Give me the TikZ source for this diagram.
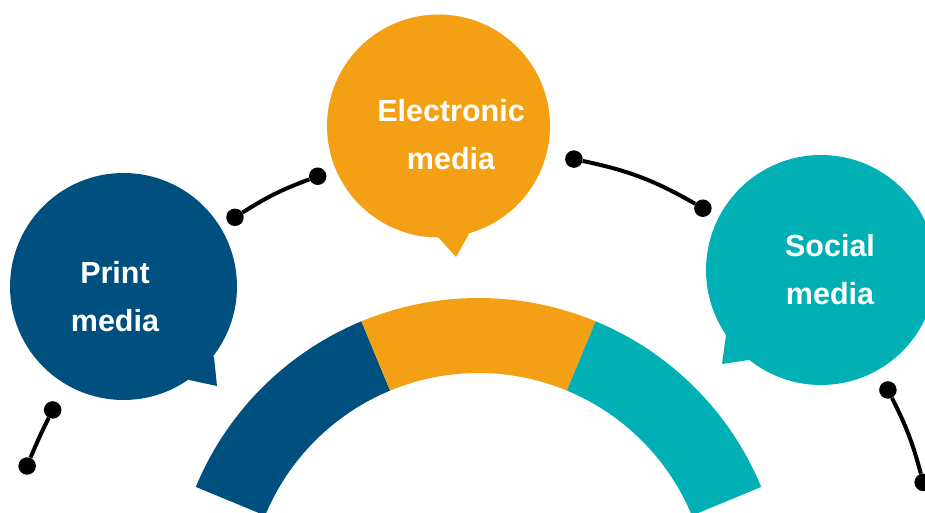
\documentclass[tikz,border=0pt]{standalone}
\usepackage{fontspec}
\setmainfont{Liberation Sans}
\usetikzlibrary{calc}
\definecolor{printblue}{HTML}{00507F}
\definecolor{elecorange}{HTML}{F4A015}
\definecolor{socialteal}{HTML}{00B0B4}
\begin{document}
\begin{tikzpicture}[x=1pt,y=1pt,
  bubble/.style={circle, inner sep=0pt, minimum size=#1},
  caption/.style={text=white, font=\fontsize{30.5}{48}\selectfont\bfseries, align=center, inner sep=0pt},
  dot/.style={circle, fill=black, inner sep=0pt, minimum size=17.5pt},
  link/.style={line width=4pt, black}]
\useasboundingbox (0,0) rectangle (925,513);
\clip (0,0) rectangle (925,513);
\coordinate (C) at (478.5,-91);

% three-part ring
\fill[printblue] ($(C)+(112.5:306)$) arc[start angle=112.5,end angle=157.5,radius=306]
  -- ($(C)+(157.5:231)$) arc[start angle=157.5,end angle=112.5,radius=231] -- cycle;
\fill[elecorange] ($(C)+(67.5:306)$) arc[start angle=67.5,end angle=112.5,radius=306]
  -- ($(C)+(112.5:231)$) arc[start angle=112.5,end angle=67.5,radius=231] -- cycle;
\fill[socialteal] ($(C)+(22.5:306)$) arc[start angle=22.5,end angle=67.5,radius=306]
  -- ($(C)+(67.5:231)$) arc[start angle=67.5,end angle=22.5,radius=231] -- cycle;

% speech bubbles
\node[bubble=227, fill=printblue] (pb) at (123.5,226.5) {};
\fill[printblue] ($(pb)+(90.5,-70.5)$) -- ($(pb)+(93.5,-99.5)$) -- ($(pb)+(65.5,-93.5)$) -- (pb.center) -- cycle;
\node[bubble=223, fill=elecorange] (eb) at (438.5,387) {};
\fill[elecorange] ($(eb)+(-0.5,-111)$) -- ($(eb)+(17.5,-131)$) -- ($(eb)+(31.5,-106)$) -- (eb.center) -- cycle;
\node[bubble=230, fill=socialteal] (sb) at (821,243) {};
\fill[socialteal] ($(sb)+(-95,-65)$) -- ($(sb)+(-99,-94)$) -- ($(sb)+(-72,-90)$) -- (sb.center) -- cycle;

% captions
\node[caption] (pt) at (115,216.5) {Print\\media};
\node[caption] (et) at (451,378) {Electronic\\media};
\node[caption] (st) at (830,243) {Social\\media};

% dotted connectors around the ring
\node[dot] (d1) at ($(C)+(122.2:457)$) {};
\node[dot] (d2) at ($(C)+(110.6:457)$) {};
\node[dot] (d3) at ($(C)+(77.9:455)$) {};
\node[dot] (d4) at ($(C)+(60.45:455)$) {};
\node[dot] (d5) at ($(C)+(155.5:468)$) {};
\node[dot] (d6) at ($(C)+(163:472)$) {};
\node[dot] (d7) at ($(C)+(27.6:462)$) {};
\node[dot] (d8) at ($(C)+(15.3:461)$) {};
\draw[link] (d1) to[bend left=6] (d2);
\draw[link] (d3) to[bend left=9] (d4);
\draw[link] (d5) to[bend right=2] (d6);
\draw[link] (d7) to[bend left=6] (d8);
\end{tikzpicture}
\end{document}
